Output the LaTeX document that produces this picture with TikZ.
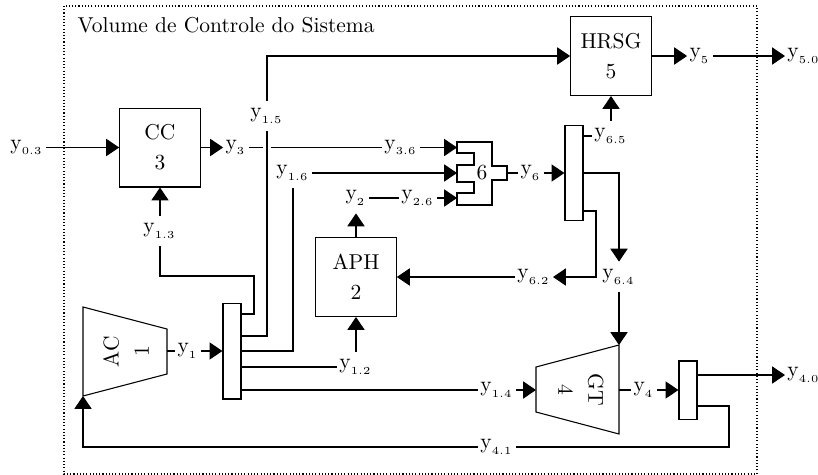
\documentclass[tikz,border=0pt]{standalone}
\usepackage{amsmath}
\usepackage{tikz}
\usetikzlibrary{arrows.meta}

\begin{document}
\begin{tikzpicture}[x=0.465pt,y=-0.465pt,line width=0.5pt,
  arr/.style={-{Triangle[length=6pt,width=8pt]}},
  blk/.style={draw,align=center,minimum width=37.5pt,minimum height=36.7pt,inner sep=0pt},
  split/.style={draw,minimum width=8.4pt,inner sep=0pt},
  lbl/.style={inner xsep=0.9pt,inner ysep=3.5pt}]

\useasboundingbox (0,0) rectangle (818,475);

% volume de controle
\draw[densely dotted] (64,6) rectangle (757,474);
\node[anchor=west,inner sep=0pt] (title) at (77,25) {Volume de Controle do Sistema};

% blocos
\node[blk] (cc) at (160,147.5) {CC\\[2pt]3};
\node[blk] (hrsg) at (611,56) {HRSG\\[2pt]5};
\node[blk] (aph) at (356,277) {APH\\[2pt]2};

% compressor e turbina
\draw (83,307) -- (167,329) -- (167,374) -- (83,396) -- cycle;
\node[rotate=90,align=center] (ac) at (126,351.5) {AC\\[2pt]1};
\coordinate (acout) at (167,351);
\coordinate (acin) at (83,396);
\draw (536,367) -- (619,345) -- (619,434) -- (536,412) -- cycle;
\node[rotate=-90,align=center] (gt) at (581,390) {GT\\[2pt]4};
\coordinate (gtin) at (536,390);
\coordinate (gtout) at (619,390);
\coordinate (gttop) at (619,345);

% misturador 6
\draw (457,142) -- (492,142) -- (492,166) -- (507,166) -- (507,180) -- (492,180)
  -- (492,205) -- (457,205) -- (457,193) -- (474,193) -- (474,182) -- (457,182)
  -- (457,165) -- (474,165) -- (474,153) -- (457,153) -- cycle;
\node (mix) at (482,173) {6};
\coordinate (m1) at (457,147.5);
\coordinate (m2) at (457,173);
\coordinate (m3) at (457,198);
\coordinate (mout) at (507,173);

% divisores
\node[split,minimum height=44.6pt] (sp1) at (232,351) {};
\node[split,minimum height=27pt] (sp4) at (688,390) {};
\node[split,minimum height=44.6pt] (sp6) at (574,173) {};
\coordinate (s1a) at (241,314);
\coordinate (s1b) at (241,336);
\coordinate (s1c) at (241,351);
\coordinate (s1d) at (241,367);
\coordinate (s1e) at (241,390);
\coordinate (s4a) at (697,375);
\coordinate (s4b) at (697,406);
\coordinate (s6a) at (583,136);
\coordinate (s6b) at (583,173);
\coordinate (s6c) at (583,211);

% fluxos
\node[lbl] (y03) at (27,147.5) {$\mathrm{y}_{_{0.3}}$};
\node[lbl] (y3) at (236,147.5) {$\mathrm{y}_{_{3}}$};
\node[lbl] (y36) at (401,147.5) {$\mathrm{y}_{_{3.6}}$};
\node[lbl] (y15) at (267,116) {$\mathrm{y}_{_{1.5}}$};
\node[lbl] (y16) at (293,173) {$\mathrm{y}_{_{1.6}}$};
\node[lbl] (y13) at (160,231) {$\mathrm{y}_{_{1.3}}$};
\node[lbl] (y2) at (356,198) {$\mathrm{y}_{_{2}}$};
\node[lbl] (y26) at (418,198) {$\mathrm{y}_{_{2.6}}$};
\node[lbl] (y12) at (356,367) {$\mathrm{y}_{_{1.2}}$};
\node[lbl] (y1) at (188,351) {$\mathrm{y}_{_{1}}$};
\node[lbl] (y14) at (497,390) {$\mathrm{y}_{_{1.4}}$};
\node[lbl] (y41) at (497,447) {$\mathrm{y}_{_{4.1}}$};
\node[lbl] (y4) at (644,390) {$\mathrm{y}_{_{4}}$};
\node[lbl] (y40) at (804,375) {$\mathrm{y}_{_{4.0}}$};
\node[lbl] (y5) at (700,56) {$\mathrm{y}_{_{5}}$};
\node[lbl] (y50) at (804,56) {$\mathrm{y}_{_{5.0}}$};
\node[lbl] (y6) at (531,173) {$\mathrm{y}_{_{6}}$};
\node[lbl] (y65) at (611,136) {$\mathrm{y}_{_{6.5}}$};
\node[lbl] (y64) at (619,277) {$\mathrm{y}_{_{6.4}}$};
\node[lbl] (y62) at (534,277) {$\mathrm{y}_{_{6.2}}$};

% CC
\draw[arr] (y03) -- (cc);
\draw[arr] (cc) -- (y3);
\draw[arr] (y13) -- (cc);
\coordinate (x15) at (267,147.5);
\draw (y3) -- ([xshift=-1.7pt]x15);
\draw ([xshift=1.7pt]x15) -- (y36);
\draw[arr] (y36) -- (m1);

% saidas do divisor 1
\draw (s1a) -- (254,314) -- (254,276) -| (y13);
\draw (s1b) -| (y15);
\draw[arr] (y15) |- (hrsg);
\draw (s1c) -| (y16);
\draw[arr] (y16) -- (m2);
\draw (s1d) -- (y12);
\draw[arr] (y12) -- (aph);
\draw (s1e) -- (y14);
\draw[arr] (y14) -- (gtin);

% AC
\draw (acout) -- (y1);
\draw[arr] (y1) -- (sp1);

% APH
\draw[arr] (aph) -- (y2);
\draw (y2) -- (y26);
\draw[arr] (y26) -- (m3);

% misturador e divisor 6
\draw (mout) -- (y6);
\draw[arr] (y6) -- (sp6);
\draw (s6a) -- (y65);
\draw[arr] (y65) -- (hrsg);
\draw[arr] (s6b) -| (y64);
\draw[arr] (y64) -- (gttop);
\draw[arr] (s6c) -- (596,211) |- (y62);
\draw[arr] (y62) -- (aph);

% HRSG
\draw[arr] (hrsg) -- (y5);
\draw[arr] (y5) -- (y50);

% GT
\draw (gtout) -- (y4);
\draw[arr] (y4) -- (sp4);
\draw[arr] (s4a) -- (y40);
\draw (s4b) -- (729,406) |- (y41);
\draw[arr] (y41) -| (acin);

\end{tikzpicture}
\end{document}
